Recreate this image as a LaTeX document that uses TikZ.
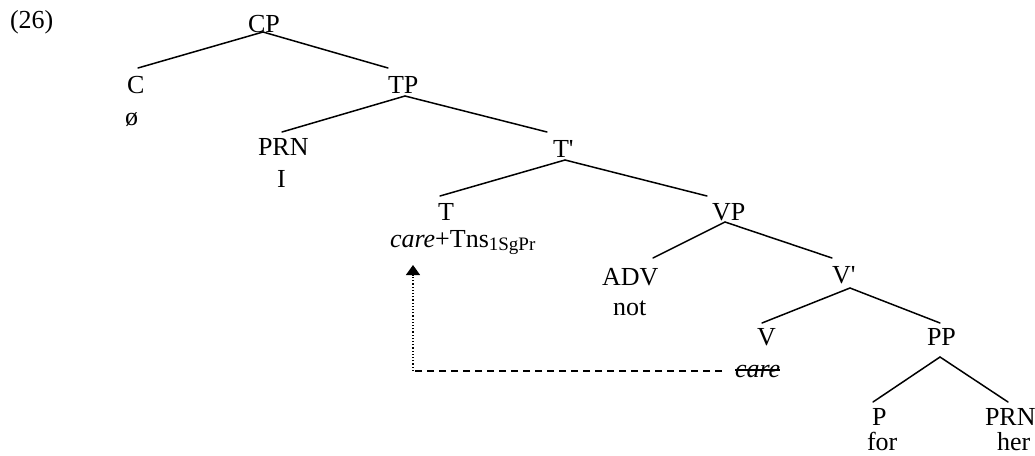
\documentclass[tikz,border=0pt]{standalone}
\usepackage{fontspec}
\setmainfont{Liberation Serif}
\usetikzlibrary{calc,arrows.meta}
\begin{document}
\begin{tikzpicture}[x=1pt,y=-1pt,
  lbl/.style={anchor=base west,inner sep=0pt,outer sep=0pt,font=\fontsize{26}{30}\selectfont},
  branch/.style={line width=1.5pt,line cap=round},
  movedash/.style={line width=1.3pt,dash pattern=on 7pt off 5pt},
  movedot/.style={line width=1.3pt,dash pattern=on 1.2pt off 2pt,-{Triangle[length=10pt,width=14pt]}},
  strike/.style={line width=1.3pt}]
\useasboundingbox (0,0) rectangle (1035,455);
% labels
\node[lbl] (ex)   at (10,28)   {(26)};
\node[lbl] (CP)   at (248,32)  {CP};
\node[lbl] (C)    at (127,93)  {C};
\node[lbl] (Cw)   at (125,125) {ø};
\node[lbl] (TP)   at (388,93)  {TP};
\node[lbl] (PRN)  at (258,155) {PRN};
\node[lbl] (Iw)   at (277,187) {I};
\node[lbl] (Tb)   at (553,157) {T\textquotesingle};
\node[lbl] (T)    at (438,220) {T};
\node[lbl] (careT) at (390,247) {\textit{care}+Tns\raisebox{-3pt}{\fontsize{19}{19}\selectfont 1SgPr}};
\node[lbl] (VP)   at (712,220) {VP};
\node[lbl] (ADV)  at (602,285) {ADV};
\node[lbl] (notw) at (613,315) {not};
\node[lbl] (Vb)   at (832,283) {V\textquotesingle};
\node[lbl] (V)    at (757,345) {V};
\node[lbl] (care2) at (735,377) {\textit{care}};
\node[lbl] (PP)   at (927,345) {PP};
\node[lbl] (P)    at (872,425) {P};
\node[lbl] (PRNb) at (985,425) {PRN};
\node[lbl] (forw) at (867,450) {for};
\node[lbl] (herw) at (997,450) {her};
% branches
\draw[branch] ($(CP.base west)+(15,0)$) -- ($(C.base west)+(11,-25)$);
\draw[branch] ($(CP.base west)+(15,0)$) -- ($(TP.base west)+(0,-25)$);
\draw[branch] ($(TP.base west)+(17,3)$) -- ($(PRN.base west)+(24,-23)$);
\draw[branch] ($(TP.base west)+(17,3)$) -- ($(Tb.base west)+(-6,-25)$);
\draw[branch] ($(Tb.base west)+(12,3)$) -- ($(T.base west)+(2,-24)$);
\draw[branch] ($(Tb.base west)+(12,3)$) -- ($(VP.base west)+(-5,-24)$);
\draw[branch] ($(VP.base west)+(13,2)$) -- ($(ADV.base west)+(51,-27)$);
\draw[branch] ($(VP.base west)+(13,2)$) -- ($(Vb.base west)+(0,-25)$);
\draw[branch] ($(Vb.base west)+(18,5)$) -- ($(V.base west)+(5,-22)$);
\draw[branch] ($(Vb.base west)+(18,5)$) -- ($(PP.base west)+(13,-22)$);
\draw[branch] ($(PP.base west)+(13,12)$) -- ($(P.base west)+(1,-23)$);
\draw[branch] ($(PP.base west)+(13,12)$) -- ($(PRNb.base west)+(23,-23)$);
% strike-through of the moved verb
\draw[strike] ([yshift=7pt]care2.base west) -- ([yshift=7pt]care2.base east);
% movement arrow
\coordinate (tip) at ($(careT.base west)+(23,18)$);
\coordinate (mstart) at ($(care2.base west)+(-13,-6)$);
\coordinate (bend) at (tip |- mstart);
\draw[movedash] (mstart) -- (bend);
\draw[movedot] (bend) -- (tip);
\end{tikzpicture}
\end{document}
